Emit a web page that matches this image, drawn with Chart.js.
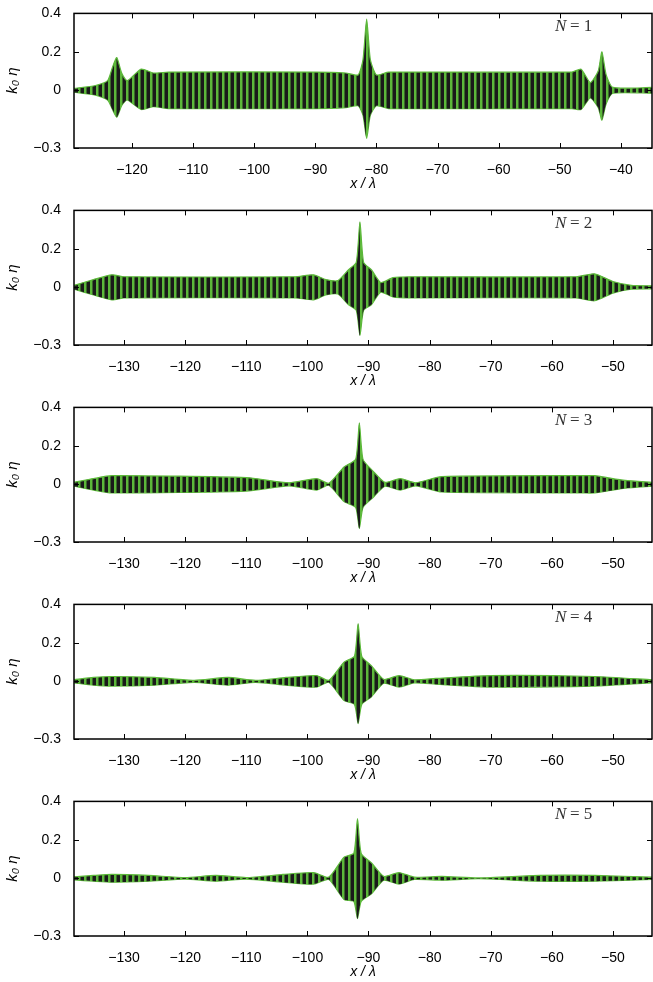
<!DOCTYPE html>
<html><head><meta charset="utf-8">
<script src="https://cdn.jsdelivr.net/npm/chart.js@4/dist/chart.umd.min.js"></script>
<style>body{margin:0;background:#fff}.p{width:653px;height:197px;position:relative}</style>
</head><body>
<div class="p"><canvas id="c0"></canvas></div>
<div class="p"><canvas id="c1"></canvas></div>
<div class="p"><canvas id="c2"></canvas></div>
<div class="p"><canvas id="c3"></canvas></div>
<div class="p"><canvas id="c4"></canvas></div>
<script>
// Envelope key points: [x/λ, upper k0η, lower k0η]
const env1=[[-129.5,0.01,-0.01],[-126,0.025,-0.025],[-124,0.05,-0.05],[-123.2,0.12,-0.1],[-122.5,0.17,-0.14],[-121.7,0.09,-0.08],[-120.8,0.05,-0.05],[-118.5,0.11,-0.1],[-116.5,0.09,-0.085],[-114,0.095,-0.095],[-90,0.095,-0.095],[-85,0.09,-0.09],[-83,0.08,-0.08],[-82.2,0.16,-0.13],[-81.6,0.37,-0.25],[-81,0.16,-0.13],[-80,0.08,-0.08],[-78,0.095,-0.095],[-48,0.095,-0.095],[-46.5,0.11,-0.1],[-45,0.04,-0.04],[-43.7,0.1,-0.09],[-43.1,0.2,-0.155],[-42.4,0.08,-0.07],[-41.3,0.015,-0.015],[-34.9,0.015,-0.015]];
const env2=[[-138.2,0.01,-0.01],[-135,0.04,-0.04],[-132,0.065,-0.065],[-130,0.055,-0.055],[-102,0.055,-0.055],[-99,0.065,-0.065],[-97,0.04,-0.04],[-95,0.035,-0.035],[-93.3,0.09,-0.09],[-92,0.13,-0.12],[-91.4,0.34,-0.25],[-90.8,0.13,-0.12],[-89.5,0.09,-0.09],[-88,0.025,-0.025],[-86,0.05,-0.05],[-83,0.055,-0.055],[-56,0.055,-0.055],[-53,0.07,-0.07],[-50,0.03,-0.03],[-47,0.01,-0.01],[-43.6,0.008,-0.008]];
const env3=[[-138.2,0.01,-0.01],[-135,0.03,-0.03],[-132,0.045,-0.045],[-110,0.035,-0.035],[-103,0.008,-0.008],[-98.5,0.03,-0.03],[-96.5,0.005,-0.005],[-94,0.09,-0.09],[-92.1,0.13,-0.12],[-91.5,0.32,-0.23],[-90.9,0.13,-0.12],[-89.3,0.07,-0.07],[-87.3,0.01,-0.01],[-84.8,0.03,-0.03],[-82.3,0.008,-0.008],[-78,0.04,-0.04],[-55,0.045,-0.045],[-53,0.045,-0.045],[-48,0.02,-0.02],[-43.6,0.01,-0.01]];
const env4=[[-138.2,0.008,-0.008],[-135,0.02,-0.02],[-132,0.025,-0.025],[-125,0.02,-0.02],[-118.5,0.005,-0.005],[-113,0.02,-0.02],[-108.5,0.005,-0.005],[-103.5,0.02,-0.02],[-98.5,0.03,-0.03],[-96.5,0.005,-0.005],[-94,0.1,-0.1],[-92.3,0.13,-0.12],[-91.7,0.3,-0.22],[-91.1,0.13,-0.12],[-89.5,0.08,-0.08],[-87.5,0.01,-0.01],[-85,0.03,-0.03],[-82.5,0.008,-0.008],[-79,0.015,-0.015],[-70,0.03,-0.03],[-53,0.025,-0.025],[-43.6,0.008,-0.008]];
const env5=[[-138.2,0.008,-0.008],[-135,0.015,-0.015],[-132,0.02,-0.02],[-126,0.015,-0.015],[-120,0.004,-0.004],[-115,0.015,-0.015],[-110,0.004,-0.004],[-104,0.02,-0.02],[-99,0.03,-0.03],[-96.5,0.006,-0.006],[-94,0.11,-0.11],[-92.4,0.13,-0.12],[-91.8,0.31,-0.21],[-91.2,0.13,-0.12],[-89.5,0.08,-0.08],[-87.5,0.01,-0.01],[-85,0.03,-0.03],[-82.5,0.006,-0.006],[-78,0.01,-0.01],[-72,0.002,-0.002],[-62,0.015,-0.015],[-53,0.015,-0.015],[-43.6,0.006,-0.006]];
const envs=[env1,env2,env3,env4,env5];
const xRanges=[[-129.5,-34.9],[-138.2,-43.6],[-138.2,-43.6],[-138.2,-43.6],[-138.2,-43.6]];
const yTicks=[-0.3,0,0.2,0.4];
const labels=['1','2','3','4','5'];

const pc=document.createElement('canvas');pc.width=6;pc.height=6;
const g=pc.getContext('2d');g.fillStyle='#1a1a1a';g.fillRect(0,0,6,6);
g.fillStyle='#5cb83a';g.fillRect(0,0,2.5,6);

envs.forEach((env,i)=>{
  const ctx=document.getElementById('c'+i).getContext('2d');
  const pattern=ctx.createPattern(pc,'repeat');
  new Chart(ctx,{type:'line',
    data:{datasets:[
      {data:env.map(e=>({x:e[0],y:e[1]})),borderColor:'#5cb83a',borderWidth:1.2,pointRadius:0,tension:0.2,fill:'+1',backgroundColor:pattern},
      {data:env.map(e=>({x:e[0],y:e[2]})),borderColor:'#5cb83a',borderWidth:1.2,pointRadius:0,tension:0.2,fill:false}]},
    options:{responsive:true,maintainAspectRatio:false,animation:false,
      layout:{padding:{top:13,right:1,left:0,bottom:0}},
      plugins:{legend:{display:false},tooltip:{enabled:false}},
      scales:{
        x:{type:'linear',min:xRanges[i][0],max:xRanges[i][1],
          afterBuildTicks:s=>{const t=[];for(let v=Math.ceil(s.min/10)*10;v<=s.max;v+=10)t.push({value:v});s.ticks=t;},
          ticks:{color:'#000',font:{family:'Liberation Sans',size:14},maxRotation:0,padding:6,callback:v=>String(v).replace('-','\u2212')},
          grid:{display:false},border:{display:false},
          title:{display:true,text:'x / λ',font:{family:'Liberation Sans',size:14,style:'italic'},color:'#000',padding:{top:0}},
          afterFit:s=>{s.height=49}},
        y:{min:-0.3,max:0.4,afterBuildTicks:s=>{s.ticks=yTicks.map(v=>({value:v}))},
          ticks:{color:'#000',font:{family:'Liberation Sans',size:14},padding:5,callback:v=>v===0?'0':String(v).replace('-','\u2212')},
          grid:{display:false},border:{display:false},
          title:{display:true,text:'k₀ η',font:{family:'Liberation Sans',size:15,style:'italic'},color:'#000',padding:{bottom:6}},
          afterFit:s=>{s.width=74}}
      }},
    plugins:[{id:'box',afterDraw(c){const a=c.chartArea,x=c.ctx;x.save();x.strokeStyle='#000';x.lineWidth=1.5;
      x.strokeRect(a.left,a.top,a.right-a.left,a.bottom-a.top);
      x.beginPath();
      c.scales.x.ticks.forEach(t=>{const p=Math.round(c.scales.x.getPixelForValue(t.value))+0.5;x.moveTo(p,a.bottom);x.lineTo(p,a.bottom-5);x.moveTo(p,a.top);x.lineTo(p,a.top+5);});
      c.scales.y.ticks.forEach(t=>{const p=Math.round(c.scales.y.getPixelForValue(t.value))+0.5;x.moveTo(a.left,p);x.lineTo(a.left+5,p);x.moveTo(a.right,p);x.lineTo(a.right-5,p);});
      x.lineWidth=1;x.stroke();
      x.fillStyle='#333';x.textAlign='left';x.font='italic 17px "Liberation Serif"';
      x.fillText('N',555,a.top+18);x.font='17px "Liberation Serif"';x.fillText('= '+labels[i],570,a.top+18);x.restore();}}]
  });
});
</script></body></html>
